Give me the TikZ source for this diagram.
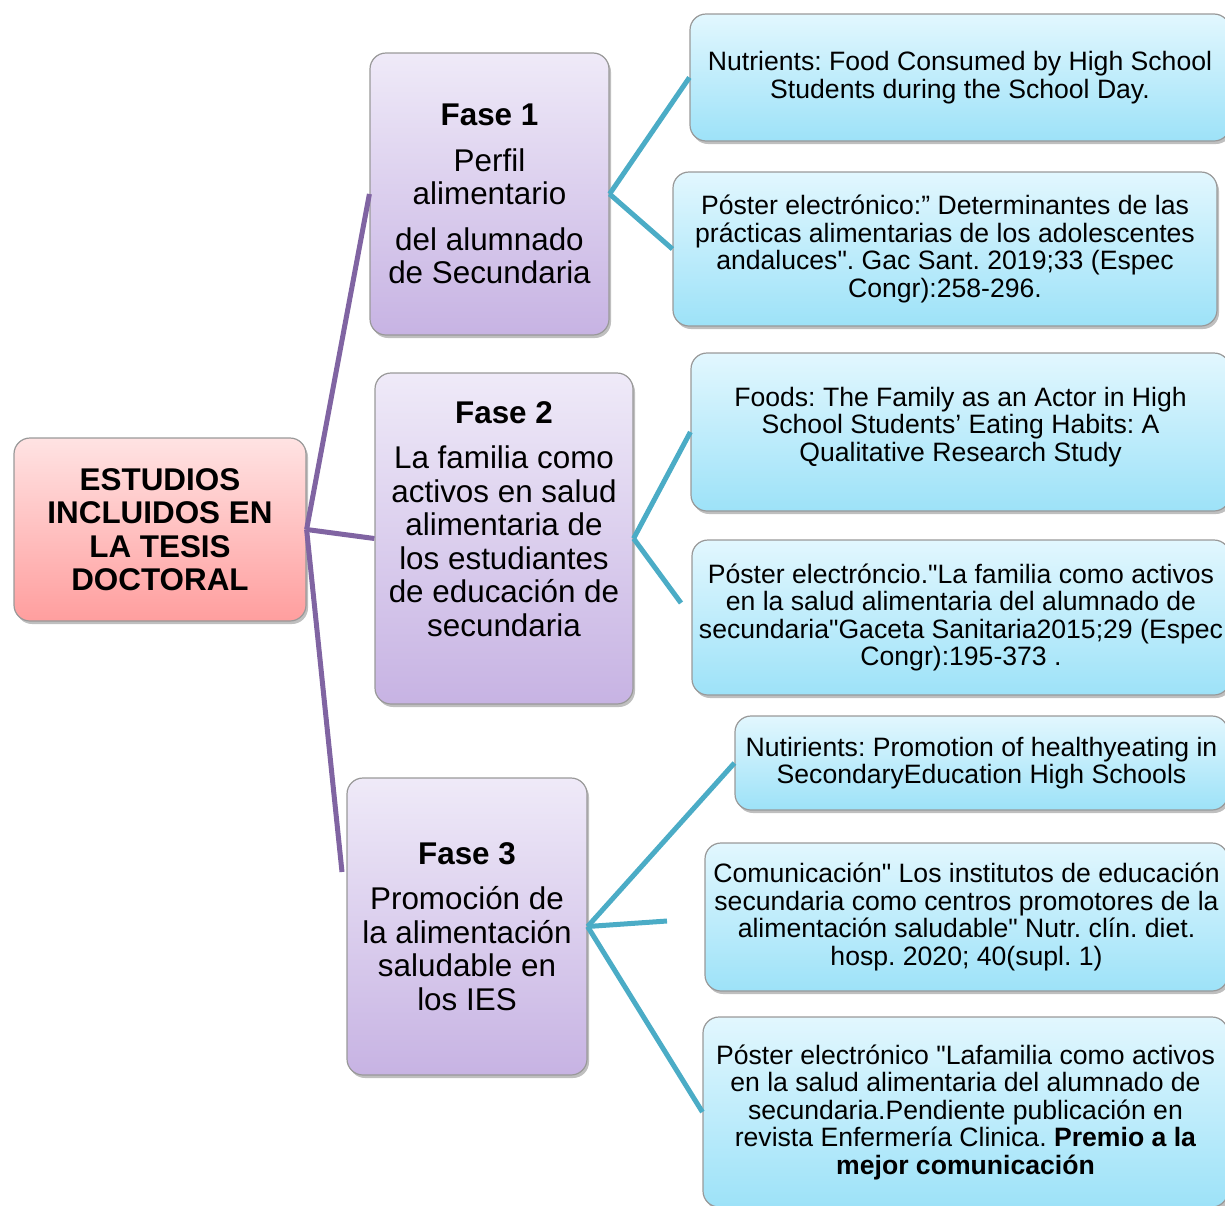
\documentclass[tikz,border=0pt]{standalone}
\usepackage{fontspec}
\setmainfont{Liberation Sans}[Ligatures=TeXOff]
\frenchspacing
\usetikzlibrary{shadows}
\definecolor{rootTop}{HTML}{FFE3E3}
\definecolor{rootBot}{HTML}{FF9E9E}
\definecolor{faseTop}{HTML}{EFEAF8}
\definecolor{faseBot}{HTML}{C7B3E3}
\definecolor{pubTop}{HTML}{E2F7FE}
\definecolor{pubBot}{HTML}{9DE2F8}
\definecolor{lilac}{HTML}{8064A2}
\definecolor{teal}{HTML}{4BACC6}
\begin{document}
\begin{tikzpicture}[x=0.5pt, y=-0.5pt,
    box/.style={draw=gray!80, line width=0.6pt, rounded corners=8pt,
        drop shadow={shadow xshift=1pt, shadow yshift=-1.5pt, opacity=0.25, fill=black},
        align=center, inner sep=2pt},
    rootbox/.style={box, top color=rootTop, bottom color=rootBot,
        font=\fontsize{15.7}{16.75}\selectfont\bfseries},
    fasebox/.style={box, top color=faseTop, bottom color=faseBot,
        font=\fontsize{15.7}{16.75}\selectfont},
    pubbox/.style={box, top color=pubTop, bottom color=pubBot,
        font=\fontsize{13.3}{13.75}\selectfont},
    faselink/.style={draw=lilac, line width=2.5pt},
    publink/.style={draw=teal, line width=2.5pt}]
    \useasboundingbox (0,0) rectangle (1225,1205);

    % Draw nodes
    \node[rootbox, minimum width=146pt, minimum height=91.5pt] (root) at (160,529.5)
        {ESTUDIOS\\ INCLUIDOS EN\\ LA TESIS\\ DOCTORAL};

    \node[fasebox, minimum width=119.5pt, minimum height=141pt] (f1) at (489.5,194)
        {\textbf{Fase 1}\\[6pt] Perfil\\ alimentario\\[6pt] del alumnado\\ de Secundaria};
    \node[fasebox, minimum width=129pt, minimum height=165.5pt] (f2) at (504,538.5) {};
    \node[align=center, font=\fontsize{15.7}{16.75}\selectfont] (f2text) at (504,519)
        {\textbf{Fase 2}\\[6pt] La familia como\\ activos en salud\\ alimentaria de\\ los estudiantes\\ de educación de\\ secundaria};
    \node[fasebox, minimum width=120pt, minimum height=148.5pt] (f3) at (467,926.5)
        {\textbf{Fase 3}\\[6pt] Promoción de\\ la alimentación\\ saludable en\\ los IES};

    \node[pubbox, minimum width=270pt, minimum height=63.5pt] (b1) at (960,77.5)
        {Nutrients: Food Consumed by High School\\ Students during the School Day.};
    \node[pubbox, minimum width=272pt, minimum height=77pt] (b2) at (945,249)
        {Póster electrónico:” Determinantes de las\\ prácticas alimentarias de los adolescentes\\ andaluces". Gac Sant. 2019;33 (Espec\\ Congr):258-296.};
    \node[pubbox, minimum width=269.5pt, minimum height=79pt] (b3) at (960.5,432) {};
    \node[align=center, font=\fontsize{13.3}{13.75}\selectfont] (b3text) at (960.5,427)
        {Foods: The Family as an Actor in High\\ School Students’ Eating Habits: A\\ Qualitative Research Study};
    \node[pubbox, minimum width=269pt, minimum height=77.5pt] (b4) at (961,617.5)
        {Póster electróncio."La familia como activos\\ en la salud alimentaria del alumnado de\\ secundaria"Gaceta Sanitaria2015;29 (Espec\\ Congr):195-373 .};
    \node[pubbox, minimum width=246.5pt, minimum height=47pt] (b5) at (981.5,763)
        {Nutirients: Promotion of healthyeating in\\ SecondaryEducation High Schools};
    \node[pubbox, minimum width=261.5pt, minimum height=74pt] (b6) at (966.5,917)
        {Comunicación" Los institutos de educación\\ secundaria como centros promotores de la\\ alimentación saludable" Nutr. clín. diet.\\ hosp. 2020; 40(supl. 1)};
    \node[pubbox, minimum width=262.5pt, minimum height=95pt] (b7) at (965.5,1112)
        {Póster electrónico "Lafamilia como activos\\ en la salud alimentaria del alumnado de\\ secundaria.Pendiente publicación en\\ revista Enfermería Clinica. \textbf{Premio a la}\\ \textbf{mejor comunicación}};

    % Free ends
    \coordinate (f3end) at (342,872);
    \coordinate (b4end) at (681,603);
    \coordinate (b6end) at (667,921);

    % Draw connections
    \draw[faselink] (root.east) -- (f1.west);
    \draw[faselink] (root.east) -- (f2.west);
    \draw[faselink] (root.east) -- (f3end);

    \draw[publink] (f1.east) -- (b1.west);
    \draw[publink] (f1.east) -- (b2.west);
    \draw[publink] (f2.east) -- (b3.west);
    \draw[publink] (f2.east) -- (b4end);
    \draw[publink] (f3.east) -- (b5.west);
    \draw[publink] (f3.east) -- (b6end);
    \draw[publink] (f3.east) -- (b7.west);
\end{tikzpicture}
\end{document}
